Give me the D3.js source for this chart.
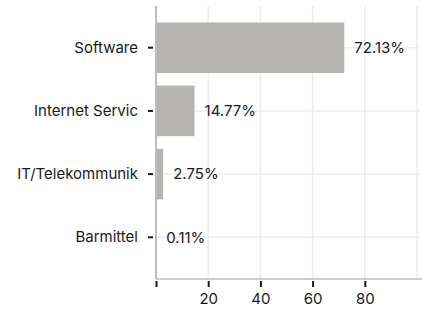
<!DOCTYPE html>
<html>
<head>
<meta charset="utf-8">
<script src="https://cdn.jsdelivr.net/npm/d3@7"></script>
<style>
  body { margin: 0; background: #fff; }
  svg { font-family: Inter, "Noto Sans", sans-serif; }
</style>
</head>
<body>
<div id="wrapper"></div>
<script>
const categories = ["Software", "Internet Servic", "IT/Telekommunik", "Barmittel"]
const values = [72.13, 14.77, 2.75, 0.11]
const xTicks = [0, 20, 40, 60, 80]
const xGrid = [20, 40, 60, 80, 100]

const dimensions = {
    width: 422,
    height: 309,
    margin: { top: 6, right: 2, bottom: 30, left: 156 },
}
dimensions.boundedWidth = dimensions.width - dimensions.margin.left - dimensions.margin.right
dimensions.boundedHeight = dimensions.height - dimensions.margin.top - dimensions.margin.bottom

const wrapper = d3.select("#wrapper")
    .append("svg")
    .attr("width", dimensions.width)
    .attr("height", dimensions.height)

const bounds = wrapper.append("g")
    .attr("transform", `translate(${dimensions.margin.left}, ${dimensions.margin.top})`)

const xScaler = d3.scaleLinear()
    .domain([0, 100])
    .range([0, 261])

const yScaler = d3.scaleBand()
    .domain(categories)
    .range([0, dimensions.boundedHeight])
    .paddingInner(0.2)
    .paddingOuter(0.26)

// grid
bounds.append("g")
    .selectAll("line")
    .data(xGrid)
    .join("line")
    .attr("x1", d => xScaler(d))
    .attr("x2", d => xScaler(d))
    .attr("y1", 0)
    .attr("y2", dimensions.boundedHeight)
    .attr("stroke", "#ececec")
    .attr("stroke-width", 1.5)

bounds.append("g")
    .selectAll("line")
    .data(categories)
    .join("line")
    .attr("x1", 0)
    .attr("x2", dimensions.boundedWidth)
    .attr("y1", d => yScaler(d) + yScaler.bandwidth() / 2)
    .attr("y2", d => yScaler(d) + yScaler.bandwidth() / 2)
    .attr("stroke", "#ececec")
    .attr("stroke-width", 1.5)

// bars
bounds.append("g")
    .selectAll("rect")
    .data(values)
    .join("rect")
    .attr("x", 0)
    .attr("y", (d, i) => yScaler(categories[i]))
    .attr("width", d => xScaler(d))
    .attr("height", yScaler.bandwidth())
    .attr("fill", "#b5b4b0")

// value labels
bounds.append("g")
    .selectAll("text")
    .data(values)
    .join("text")
    .attr("x", d => xScaler(d) + 10)
    .attr("y", (d, i) => yScaler(categories[i]) + yScaler.bandwidth() / 2)
    .attr("dy", "0.35em")
    .attr("font-size", "15px")
    .attr("fill", "#1a1a1a")
    .text(d => d.toFixed(2) + "%")

// axes
const yAxis = bounds.append("g")
    .call(d3.axisLeft(yScaler).tickSize(8).tickPadding(10))
yAxis.select(".domain").remove()
yAxis.selectAll(".tick line")
    .attr("x1", -3)
    .attr("x2", -8)
    .attr("stroke", "#1a1a1a")
    .attr("stroke-width", 2)
yAxis.selectAll(".tick text")
    .attr("font-size", "15px")
    .attr("font-family", "Inter, sans-serif")
    .attr("fill", "#1a1a1a")

const xAxis = bounds.append("g")
    .attr("transform", `translate(0, ${dimensions.boundedHeight})`)
    .call(d3.axisBottom(xScaler).tickValues(xTicks).tickFormat(d => d === 0 ? "" : d).tickSize(8).tickPadding(6))
xAxis.select(".domain").remove()
xAxis.selectAll(".tick line")
    .attr("y1", 2)
    .attr("y2", 8)
    .attr("stroke", "#1a1a1a")
    .attr("stroke-width", 2)
xAxis.selectAll(".tick text")
    .attr("font-size", "15px")
    .attr("font-family", "Inter, sans-serif")
    .attr("fill", "#1a1a1a")

// axis lines
bounds.append("line")
    .attr("x1", 0).attr("x2", 0)
    .attr("y1", 0).attr("y2", dimensions.boundedHeight)
    .attr("stroke", "#bdbdbd")
    .attr("stroke-width", 2)

bounds.append("line")
    .attr("x1", 0).attr("x2", dimensions.boundedWidth + 2)
    .attr("y1", dimensions.boundedHeight).attr("y2", dimensions.boundedHeight)
    .attr("stroke", "#bdbdbd")
    .attr("stroke-width", 1.5)
</script>
</body>
</html>
